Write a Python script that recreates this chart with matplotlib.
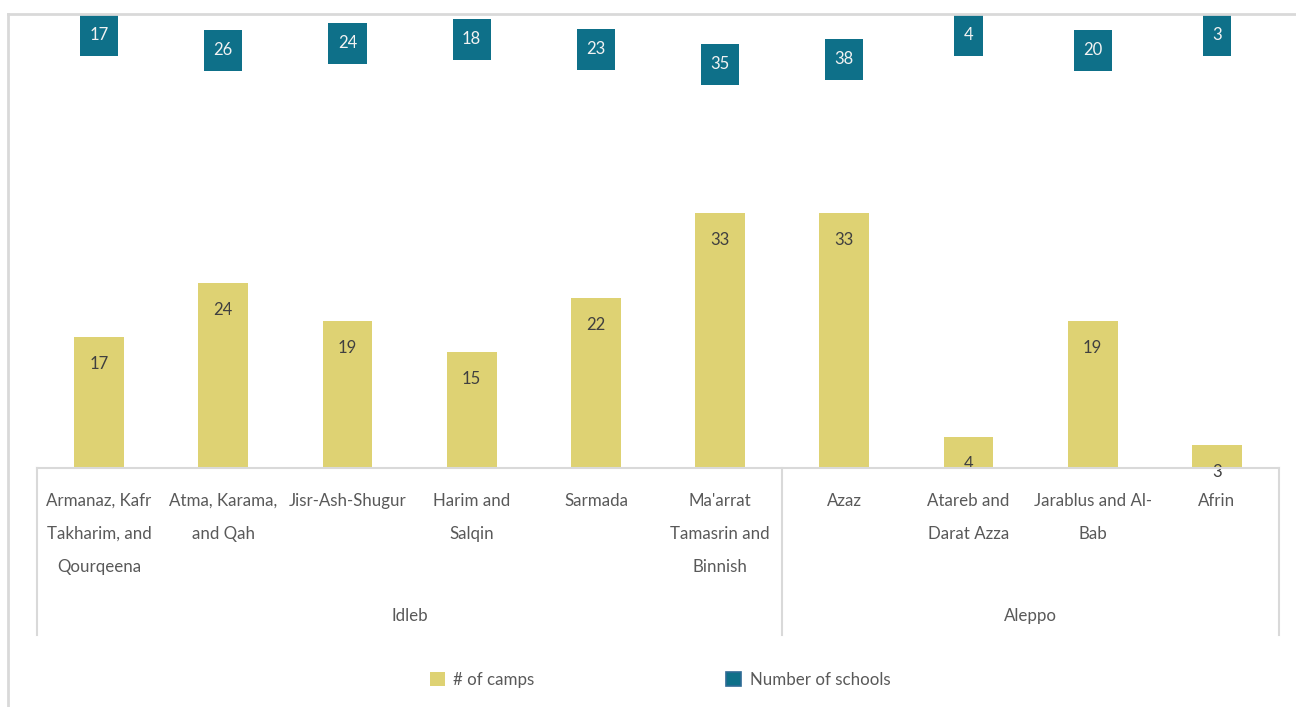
import matplotlib
matplotlib.use("Agg")
import matplotlib.pyplot as plt
from matplotlib.patches import Patch, Rectangle
from matplotlib.lines import Line2D
import matplotlib.transforms as mtransforms

# ---- data ----
districts = [
    "Armanaz, Kafr\nTakharim, and\nQourqeena",
    "Atma, Karama,\nand Qah",
    "Jisr-Ash-Shugur",
    "Harim and\nSalqin",
    "Sarmada",
    "Ma'arrat\nTamasrin and\nBinnish",
    "Azaz",
    "Atareb and\nDarat Azza",
    "Jarablus and Al-\nBab",
    "Afrin",
]
governorates = ["Idleb", "Aleppo"]
districts_per_governorate = [6, 4]
camps = [17, 24, 19, 15, 22, 33, 33, 4, 19, 3]
schools = [17, 26, 24, 18, 23, 35, 38, 4, 20, 3]

# ---- styling ----
CAMP_COLOR = "#DED273"
SCHOOL_COLOR = "#0E7089"
TEXT_COLOR = "#595959"
VALUE_COLOR = "#404040"
GRID_COLOR = "#D9D9D9"
plt.rcParams["font.family"] = ["Lato", "DejaVu Sans"]

W, H = 1296, 707
fig = plt.figure(figsize=(W / 100, H / 100), dpi=100)


def fy(py):
    """pixel row (from top) -> figure fraction"""
    return 1 - py / H


def fx(px):
    return px / W


ax = fig.add_axes([fx(37), fy(468), fx(1279) - fx(37), fy(14) - fy(468)])
n = len(districts)
x = list(range(n))
ax.bar(x, camps, width=0.4, color=CAMP_COLOR, zorder=2)
ax.set_xlim(-0.5, n - 0.5)
ax.set_ylim(0, 58.75)
ax.axis("off")

# value labels at the inside end of each bar
for xi, v in zip(x, camps):
    ax.annotate(str(v), (xi, v), xytext=(0, -27 * 72 / 100), textcoords="offset points",
                ha="center", va="center", fontsize=12, color=VALUE_COLOR, zorder=3)

# school counts shown as boxed labels along the top
school_label_rows = [35, 50, 43, 39, 49, 64, 59, 35, 50, 35]
blend = mtransforms.blended_transform_factory(ax.transData, fig.transFigure)
renderer = fig.canvas.get_renderer()
for xi, v, row in zip(x, schools, school_label_rows):
    t = ax.text(xi, fy(row), str(v), transform=blend, ha="center", va="center",
                fontsize=12, color="#F2F2F2", zorder=6, clip_on=False)
    bb = t.get_window_extent(renderer)
    box_w, box_h = bb.width + 19, 41
    cx = (bb.x0 + bb.x1) / 2
    cy = fy(row) * H
    ax.add_patch(Rectangle(((cx - box_w / 2) / W, (cy - box_h / 2) / H), box_w / W,
                           box_h / H, transform=fig.transFigure, fc=SCHOOL_COLOR,
                           ec="none", zorder=5, clip_on=False))

# multi-level category axis
fig.add_artist(Line2D([fx(37), fx(1279)], [fy(468), fy(468)], color=GRID_COLOR, lw=1.5))
bounds = [0]
for c in districts_per_governorate:
    bounds.append(bounds[-1] + c)
for b in bounds:
    ax.plot([b - 0.5, b - 0.5], [fy(468), fy(635)], transform=blend, color=GRID_COLOR,
            lw=1.5, clip_on=False)
for xi, name in zip(x, districts):
    ax.text(xi, fy(493), name, transform=blend, ha="center", va="top", fontsize=12.2,
            color=TEXT_COLOR, linespacing=2.3, multialignment="center")
for g, lo, hi in zip(governorates, bounds[:-1], bounds[1:]):
    ax.text((lo + hi - 1) / 2, fy(616), g, transform=blend, ha="center", va="center",
            fontsize=12.2, color=TEXT_COLOR)

# chart frame (top and left edges)
fig.add_artist(Line2D([fx(8), 1], [fy(14), fy(14)], color=GRID_COLOR, lw=2))
fig.add_artist(Line2D([fx(8), fx(8)], [fy(14), 0], color=GRID_COLOR, lw=2))

# legend
handles = [Patch(fc=CAMP_COLOR, ec="none", label="# of camps"),
           Patch(fc=SCHOOL_COLOR, ec="#2F6B95", lw=1.2, label="Number of schools")]
fig.legend(handles=handles, loc="center", bbox_to_anchor=(fx(660), fy(680)), ncol=2,
           frameon=False, fontsize=12.2, labelcolor=TEXT_COLOR, handlelength=0.9,
           handleheight=0.9, handletextpad=0.5, columnspacing=11.3)

fig.savefig("out.png", dpi=100)
